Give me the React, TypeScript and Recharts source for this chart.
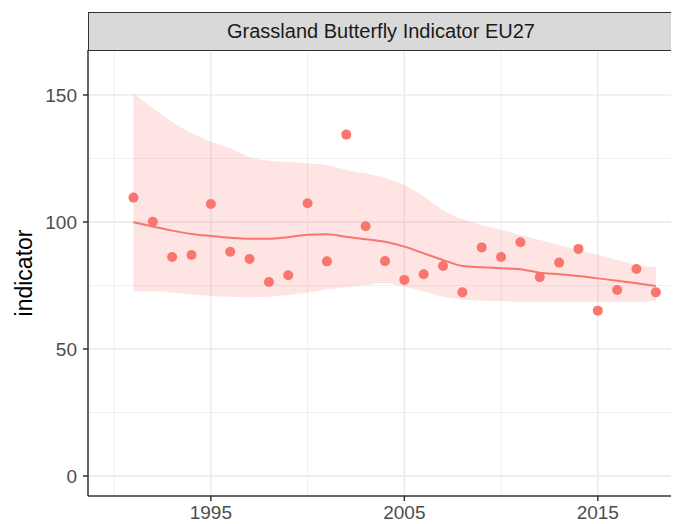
import React from "react";
import {
  ComposedChart,
  Area,
  Line,
  Scatter,
  XAxis,
  YAxis,
  CartesianGrid,
} from "recharts";

const years = [
  1991, 1992, 1993, 1994, 1995, 1996, 1997, 1998, 1999, 2000, 2001, 2002, 2003, 2004,
  2005, 2006, 2007, 2008, 2009, 2010, 2011, 2012, 2013, 2014, 2015, 2016, 2017, 2018,
];
const indicator = [
  109.6, 100.1, 86.2, 87.0, 107.1, 88.3, 85.4, 76.4, 79.0, 107.4, 84.5, 134.4, 98.3, 84.6,
  77.2, 79.4, 82.7, 72.3, 90.0, 86.2, 92.0, 78.3, 84.0, 89.4, 65.1, 73.2, 81.5, 72.3,
];
const smooth = [
  99.9, 98.2, 96.6, 95.3, 94.5, 93.8, 93.4, 93.4, 94.0, 95.0, 95.2, 94.2, 93.2, 92.2,
  90.3, 87.7, 85.0, 82.7, 82.2, 81.8, 81.4, 80.0, 79.4, 78.7, 77.8, 76.9, 75.9, 74.8,
];
const upper = [
  150.7, 144.8, 139.5, 134.9, 131.6, 129.0, 125.5, 124.1, 123.6, 123.1, 122.3, 120.5, 119.2, 117.3,
  114.6, 110.0, 104.7, 101.1, 98.8, 96.9, 94.9, 92.9, 90.9, 89.0, 87.0, 85.0, 83.1, 82.2,
];
const lower = [
  72.6, 72.8, 72.2, 71.5, 70.9, 70.6, 70.4, 70.6, 71.3, 72.2, 73.5, 74.3, 75.2, 76.0,
  74.5, 72.6, 70.6, 69.6, 69.0, 68.9, 68.5, 68.5, 68.5, 68.5, 68.5, 68.5, 68.5, 69.0,
];

const xTicks = [1995, 2005, 2015];
const xMinor = [1990, 2000, 2010];
const yTicks = [0, 50, 100, 150];
const yMinor = [25, 75, 125];
const title = "Grassland Butterfly Indicator EU27";

const RED = "#F8766D";
const FONT = "'Liberation Sans', Arial, sans-serif";

const rows = years.map((year, i) => ({
  year,
  value: indicator[i],
  fit: smooth[i],
  band: [lower[i], upper[i]],
}));

const YLabel = (props: any) => {
  const { viewBox } = props;
  const cx = 16;
  const cy = viewBox.y + viewBox.height / 2;
  return (
    <text
      x={cx}
      y={cy}
      transform={`rotate(-90, ${cx}, ${cy})`}
      textAnchor="middle"
      dominantBaseline="central"
      fontSize={23}
      fill="#000"
      fontFamily={FONT}
    >
      indicator
    </text>
  );
};

export default function App() {
  return (
    <div style={{ position: "relative", width: 671, height: 516, overflow: "hidden" }}>
      <div
        style={{
          position: "absolute",
          left: 80,
          top: 4,
          width: 600,
          height: 39,
          boxSizing: "border-box",
          border: "1.5px solid #333333",
          background: "#d9d9d9",
          display: "flex",
          alignItems: "center",
          justifyContent: "center",
          fontFamily: FONT,
          fontSize: 20,
          color: "#1a1a1a",
          zIndex: 1,
        }}
      >
        <span style={{ marginLeft: -14 }}>{title}</span>
      </div>
      <ComposedChart
        width={700}
        height={516}
        data={rows}
        margin={{ top: 42, right: 27, left: 0, bottom: 0 }}
        style={{ fontFamily: FONT }}
      >
        <CartesianGrid
          horizontalValues={yMinor}
          verticalValues={xMinor}
          stroke="#f0f0f0"
          strokeWidth={1}
        />
        <CartesianGrid
          horizontalValues={yTicks}
          verticalValues={xTicks}
          stroke="#e8e8e8"
          strokeWidth={1.3}
        />
        <XAxis
          dataKey="year"
          type="number"
          domain={[1988.65, 2019.3]}
          ticks={xTicks}
          height={28}
          tickSize={5}
          tickMargin={5}
          axisLine={{ stroke: "#333333", strokeWidth: 1.5 }}
          tickLine={{ stroke: "#333333", strokeWidth: 1.5 }}
          tick={{ fill: "#4d4d4d", fontSize: 19 }}
          allowDataOverflow
        />
        <YAxis
          type="number"
          domain={[-7.87, 167.7]}
          ticks={yTicks}
          width={80}
          tickSize={5}
          tickMargin={6}
          axisLine={{ stroke: "#333333", strokeWidth: 1.5 }}
          tickLine={{ stroke: "#333333", strokeWidth: 1.5 }}
          tick={{ fill: "#4d4d4d", fontSize: 19 }}
          label={<YLabel />}
          allowDataOverflow
        />
        <Area
          dataKey="band"
          type="monotone"
          stroke="none"
          fill={RED}
          fillOpacity={0.2}
          isAnimationActive={false}
          activeDot={false}
        />
        <Line
          dataKey="fit"
          type="monotone"
          stroke={RED}
          strokeWidth={2}
          dot={false}
          activeDot={false}
          isAnimationActive={false}
        />
        <Scatter
          dataKey="value"
          fill={RED}
          isAnimationActive={false}
          shape={(p: any) => <circle cx={p.cx} cy={p.cy} r={5} fill={RED} />}
        />
      </ComposedChart>
    </div>
  );
}
